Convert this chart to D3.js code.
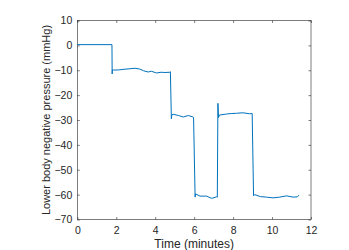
<!DOCTYPE html>
<html>
<head>
<meta charset="utf-8">
<script src="https://cdn.jsdelivr.net/npm/d3@7"></script>
<style>
  body { margin: 0; background: #fff; }
  text { font-family: "Liberation Sans", Arial, sans-serif; }
</style>
</head>
<body>
<svg id="chart"></svg>
<script>
// readings from the trace (minutes, mmHg)
const times = [0, 1.78, 1.79, 1.8, 1.85, 2.1, 2.4, 2.7, 2.96, 3.2, 3.4, 3.64, 3.8, 4.07, 4.3, 4.5, 4.75, 4.78,
  4.83, 4.85, 4.92, 5.2, 5.44, 5.7, 5.95, 5.97,
  6.05, 6.07, 6.3, 6.63, 6.9, 7.15, 7.19,
  7.22, 7.25, 7.3, 7.66, 7.9, 8.17, 8.5, 8.85, 8.98,
  9.05, 9.11, 9.4, 9.7, 10.05, 10.4, 10.74, 11.08, 11.3, 11.38];
const pressure = [0.3, 0.3, -11.5, -9.8, -9.9, -9.9, -9.6, -9.4, -9.2, -9.5, -10.2, -10.7, -10.4, -11.1, -10.8, -10.9, -10.8, -10.6,
  -29.5, -28, -27.7, -28.2, -28.8, -28.2, -28.8, -29,
  -61, -59.7, -60.6, -60.6, -61.5, -60.9, -61,
  -23.3, -29, -28, -27.6, -27.4, -27.3, -27.1, -27.5, -27.4,
  -60.5, -60, -60.8, -61, -61.3, -61, -60.5, -61, -60.9, -60.2];
const xTicks = [0, 2, 4, 6, 8, 10, 12];
const yTicks = [10, 0, -10, -20, -30, -40, -50, -60, -70];

const w = 349, h = 250;
const mLeft = 77.3, mRight = 311, mTop = 20.5, mBottom = 219.5;

const svg = d3.select("#chart").attr("width", w).attr("height", h);

const x = d3.scaleLinear().domain([0, 12]).range([mLeft, mRight]);
const y = d3.scaleLinear().domain([-70, 10]).range([mBottom, mTop]);

const axisColor = "#262626";

// box
svg.append("rect")
  .attr("x", mLeft).attr("y", mTop)
  .attr("width", mRight - mLeft).attr("height", mBottom - mTop)
  .attr("fill", "none").attr("stroke", axisColor).attr("stroke-width", 0.6);

const tickLen = 2.5;
const bottomAxis = svg.append("g")
  .attr("transform", `translate(0,${mBottom})`)
  .call(d3.axisBottom(x).tickValues(xTicks).tickSizeInner(-tickLen).tickSizeOuter(0).tickPadding(7));
const leftAxis = svg.append("g")
  .attr("transform", `translate(${mLeft},0)`)
  .call(d3.axisLeft(y).tickValues(yTicks).tickSizeInner(-tickLen).tickSizeOuter(0).tickPadding(5));
const topAxis = svg.append("g")
  .attr("transform", `translate(0,${mTop})`)
  .call(d3.axisTop(x).tickValues(xTicks).tickSizeInner(-tickLen).tickSizeOuter(0).tickFormat(""));
const rightAxis = svg.append("g")
  .attr("transform", `translate(${mRight},0)`)
  .call(d3.axisRight(y).tickValues(yTicks).tickSizeInner(-tickLen).tickSizeOuter(0).tickFormat(""));

[bottomAxis, leftAxis, topAxis, rightAxis].forEach(g => {
  g.select(".domain").remove();
  g.selectAll("line").attr("stroke", axisColor).attr("stroke-width", 0.6);
  g.selectAll("text").attr("fill", axisColor).style("font-size", "10.5px")
    .style("font-family", "Liberation Sans, Arial, sans-serif");
});

// trace
const line = d3.line().x((d, i) => x(times[i])).y(d => y(d));
svg.append("path")
  .datum(pressure)
  .attr("d", line)
  .attr("fill", "none")
  .attr("stroke", "#0072BD")
  .attr("stroke-width", 1);

// labels
svg.append("text")
  .attr("x", (mLeft + mRight) / 2).attr("y", 248)
  .attr("text-anchor", "middle")
  .attr("fill", axisColor)
  .style("font-size", "12px")
  .text("Time (minutes)");

svg.append("text")
  .attr("transform", `translate(50,${(mTop + mBottom) / 2}) rotate(-90)`)
  .attr("text-anchor", "middle")
  .attr("fill", axisColor)
  .style("font-size", "11px")
  .text("Lower body negative pressure (mmHg)");
</script>
</body>
</html>
